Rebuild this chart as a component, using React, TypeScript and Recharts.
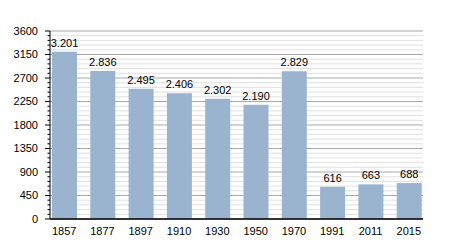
import React from 'react';
import { BarChart, Bar, XAxis, YAxis, CartesianGrid, LabelList } from 'recharts';

const years = ['1857', '1877', '1897', '1910', '1930', '1950', '1970', '1991', '2011', '2015'];
const population = [3201, 2836, 2495, 2406, 2302, 2190, 2829, 616, 663, 688];
const majorStep = 450;
const yTicks: number[] = [];
for (let v = 0; v <= 3600; v += 90) yTicks.push(v);

const data = years.map((y, i) => ({ year: y, value: population[i] }));

const fmt = (v: any) => {
  const n = Number(v);
  if (n >= 1000) {
    const s = String(n);
    return s.slice(0, s.length - 3) + '.' + s.slice(s.length - 3);
  }
  return String(n);
};

const FONT = '"Liberation Sans", Arial, sans-serif';

const YTick = (props: any) => {
  const { x, y, payload } = props;
  const v = Number(payload.value);
  const major = v % majorStep === 0;
  return (
    <g>
      <line x1={x - (major ? 5 : 2.5)} x2={x} y1={y} y2={y} stroke="#000" />
      {major && (
        <text x={x - 12} y={y} dy="0.355em" textAnchor="end" fill="#000" fontSize={11} fontFamily={FONT}>
          {v}
        </text>
      )}
    </g>
  );
};

const GridLine = (props: any) => {
  const { x1, x2, y1, y2, index } = props;
  const v = yTicks[yTicks.length - 1 - index];
  const major = (yTicks[index] ?? v) % majorStep === 0;
  return <line x1={x1} x2={x2} y1={y1} y2={y2} stroke={major ? '#a8a8a8' : '#e0e0e0'} strokeWidth={1} />;
};

export default function App() {
  return (
    <div style={{ position: 'absolute', left: 0, top: 0, background: '#fff' }}>
      <BarChart
        width={450}
        height={250}
        data={data}
        margin={{ top: 31, right: 27, bottom: 11, left: 0 }}
        style={{ fontFamily: FONT }}
      >
        <CartesianGrid vertical={false} horizontal={GridLine} />
        <XAxis
          dataKey="year"
          padding={{ left: -5, right: -5 }}
          tickLine={false}
          axisLine={{ stroke: '#000', strokeWidth: 1.5 }}
          tick={{ fill: '#000', fontSize: 11 }}
          height={20}
          interval={0}
        />
        <YAxis
          width={50}
          domain={[0, 3600]}
          ticks={yTicks}
          interval={0}
          tickSize={0}
          tickMargin={0}
          tickLine={false}
          axisLine={{ stroke: '#000' }}
          tick={YTick}
        />
        <Bar dataKey="value" fill="#9ab4cf" barSize={25} isAnimationActive={false}>
          <LabelList dataKey="value" position="top" formatter={fmt} fill="#000" fontSize={11} />
        </Bar>
      </BarChart>
    </div>
  );
}
